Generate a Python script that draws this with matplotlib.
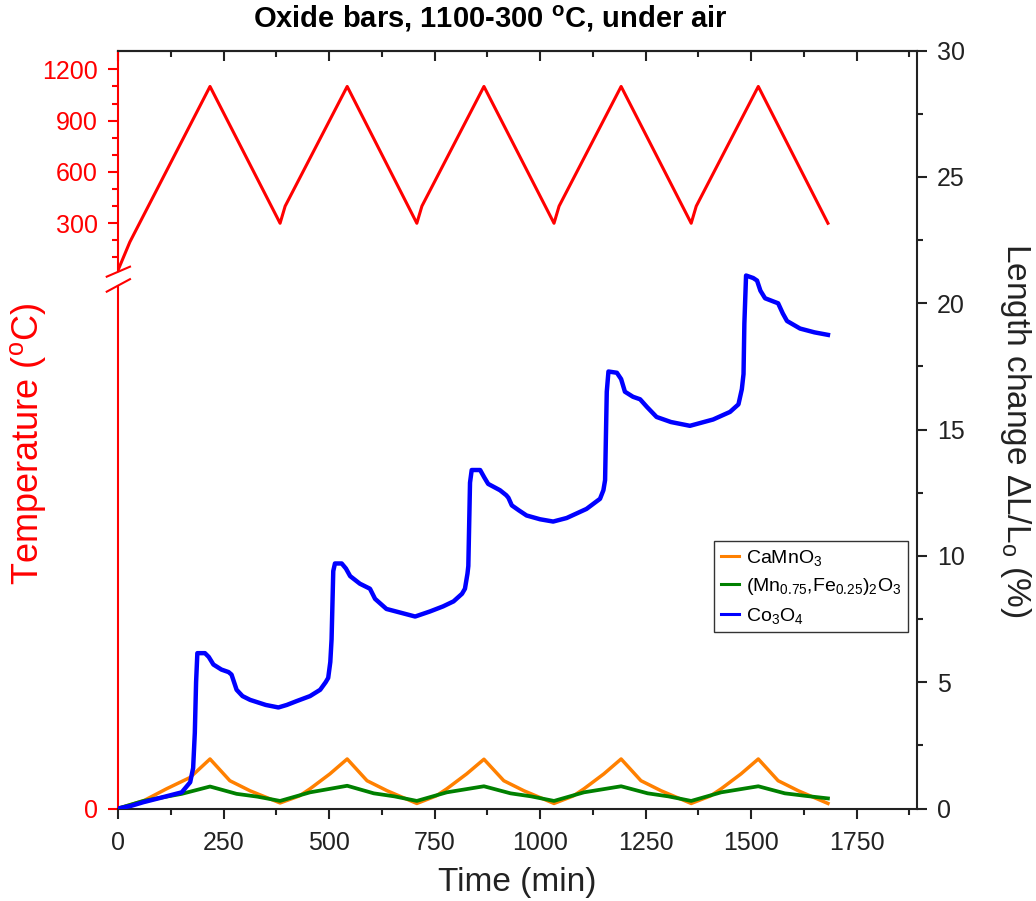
import numpy as np
import matplotlib
matplotlib.use('Agg')
import matplotlib.pyplot as plt

plt.rcParams['font.family'] = ['Liberation Sans', 'DejaVu Sans']
plt.rcParams['mathtext.fontset'] = 'custom'
plt.rcParams['mathtext.rm'] = 'Liberation Sans'
plt.rcParams['mathtext.it'] = 'Liberation Sans:italic'
plt.rcParams['mathtext.bf'] = 'Liberation Sans:bold'

# temperature program (deg C) vs time (min)
temp_t = [0, 28, 218, 384, 396, 543, 708, 720, 867, 1033, 1045, 1192, 1358, 1370, 1517, 1682]
temp_c = [25, 190, 1100, 300, 400, 1100, 300, 400, 1100, 300, 400, 1100, 300, 400, 1100, 300]

# CaMnO3 length change (%)
camn_t = [0, 30, 60, 115, 171, 218, 265, 313, 384, 430, 455, 502, 543, 590, 638, 708,
          754, 779, 826, 867, 914, 962, 1033, 1079, 1104, 1151, 1192, 1239, 1287, 1358,
          1404, 1429, 1476, 1517, 1564, 1612, 1682]
camn_l = [0, 0.15, 0.3, 0.78, 1.23, 1.96, 1.1, 0.7, 0.22, 0.5, 0.78, 1.37, 1.96, 1.1, 0.7, 0.2,
          0.5, 0.78, 1.37, 1.95, 1.1, 0.7, 0.2, 0.5, 0.78, 1.37, 1.96, 1.1, 0.7, 0.2,
          0.5, 0.78, 1.37, 1.96, 1.1, 0.7, 0.2]

# (Mn0.75,Fe0.25)2O3 length change (%)
mnfe_t = [0, 60, 151, 218, 281, 330, 384, 455, 543, 606, 655, 708, 779, 867, 930, 979, 1033,
          1104, 1192, 1255, 1304, 1358, 1429, 1517, 1580, 1629, 1682]
mnfe_l = [0, 0.3, 0.58, 0.87, 0.58, 0.47, 0.3, 0.64, 0.9, 0.6, 0.48, 0.3, 0.64, 0.88, 0.6, 0.48, 0.3,
          0.64, 0.88, 0.6, 0.48, 0.3, 0.64, 0.88, 0.6, 0.5, 0.4]

# Co3O4 length change (%)
co_t = [0, 30, 60, 100, 151, 171, 178, 182, 185, 188, 206, 215, 226, 245, 262, 269, 275, 281,
        295, 313, 350, 380, 400, 423, 455, 479, 492, 498, 503, 506, 510, 514, 530, 540, 550,
        573, 597, 603, 609, 636, 670, 704, 739, 770, 795, 815, 822, 828, 830, 834, 838, 858,
        868, 877, 905, 920, 925, 933, 950, 968, 1000, 1031, 1063, 1110, 1142, 1150, 1154, 1158,
        1162, 1182, 1192, 1201, 1220, 1237, 1253, 1276, 1310, 1355, 1410, 1450, 1470, 1478,
        1482, 1484, 1488, 1505, 1514, 1522, 1533, 1564, 1575, 1585, 1616, 1650, 1682]
co_l = [0, 0.1, 0.25, 0.42, 0.64, 1.04, 1.6, 3.0, 5.0, 6.15, 6.15, 6.0, 5.7, 5.5, 5.4, 5.3, 5.0, 4.7,
        4.45, 4.3, 4.1, 4.0, 4.1, 4.25, 4.45, 4.7, 5.0, 5.17, 5.8, 6.7, 9.4, 9.7, 9.7, 9.5, 9.2,
        8.9, 8.7, 8.5, 8.3, 7.9, 7.75, 7.6, 7.8, 8.0, 8.2, 8.5, 8.7, 9.3, 9.6, 12.9, 13.4, 13.4,
        13.1, 12.85, 12.6, 12.4, 12.3, 12.0, 11.8, 11.6, 11.45, 11.36, 11.5, 11.86, 12.26, 12.6, 13.0, 16.5,
        17.3, 17.25, 17.0, 16.5, 16.3, 16.2, 15.9, 15.5, 15.3, 15.15, 15.4, 15.7, 16.0, 16.6,
        17.2, 19.2, 21.1, 21.0, 20.9, 20.5, 20.2, 20.0, 19.6, 19.3, 19.0, 18.85, 18.75]

red = '#FF0000'
W, H = 1036, 901
fig = plt.figure(figsize=(W / 100, H / 100), dpi=100)
ax_t = fig.add_axes([118 / W, 1 - 808.5 / H, 799 / W, 757.8 / H])
ax_l = ax_t.twinx()

# temperature axis: only 300-1200 shown above the break, bottom labelled 0
t_bot, t_top = -3122, 1309
ax_t.plot(temp_t, temp_c, color=red, lw=2.2)
ax_t.set_ylim(t_bot, t_top)
ax_t.set_xlim(0, 1893)
ax_t.set_yticks([t_bot, 300, 600, 900, 1200])
ax_t.set_yticklabels(['0', '300', '600', '900', '1200'])
ax_t.set_yticks([100, 200, 400, 500, 700, 800, 1000, 1100], minor=True)
ax_t.set_xticks(np.arange(0, 1751, 250))
ax_t.set_xticks(np.arange(125, 1876, 250), minor=True)
ax_t.tick_params(axis='y', which='both', colors=red, direction='out', width=1.5, labelsize=18, pad=7.5)
ax_t.tick_params(axis='y', which='major', length=7)
ax_t.tick_params(axis='y', which='minor', length=4)
ax_t.tick_params(axis='x', which='both', direction='out', width=1.5, labelsize=18, colors='#222222', pad=9)
ax_t.tick_params(axis='x', which='major', length=7)
ax_t.tick_params(axis='x', which='minor', length=4)
ax_t.spines['left'].set_visible(False)
ax_t.spines['right'].set_visible(False)
for s in ['top', 'bottom']:
    ax_t.spines[s].set_linewidth(1.5)
    ax_t.spines[s].set_color('#222222')

# broken left spine
kw = dict(transform=ax_t.transAxes, color=red, lw=1.5, clip_on=False)
ax_t.plot([0, 0], [0, 0.690], **kw)
ax_t.plot([0, 0], [0.7096, 1], **kw)
ax_t.plot([-0.0141, 0.0150], [0.7018, 0.7150], **kw)
ax_t.plot([-0.0141, 0.0150], [0.6820, 0.6985], **kw)

# top ticks pointing inward
top = ax_t.secondary_xaxis('top')
top.set_xticks(np.arange(0, 1751, 250))
top.set_xticks(np.arange(125, 1876, 250), minor=True)
top.tick_params(which='both', direction='in', width=1.5, labeltop=False, colors='#222222')
top.tick_params(which='major', length=7)
top.tick_params(which='minor', length=4)
top.spines['top'].set_linewidth(1.5)
top.spines['top'].set_color('#222222')

# length change axis
ax_l.plot(camn_t, camn_l, color='#FF8000', lw=2.5, label='CaMnO$_3$')
ax_l.plot(mnfe_t, mnfe_l, color='#008000', lw=2.7, label='(Mn$_{0.75}$,Fe$_{0.25}$)$_2$O$_3$')
ax_l.plot(co_t, co_l, color='#0000FF', lw=3.2, label='Co$_3$O$_4$')
ax_l.set_ylim(0, 30)
ax_l.set_yticks(np.arange(0, 31, 5))
ax_l.set_yticks(np.arange(2.5, 30, 5), minor=True)
ax_l.tick_params(axis='y', which='both', direction='out', width=1.5, labelsize=18, colors='#222222', pad=7.5)
ax_l.tick_params(axis='y', which='major', length=7)
ax_l.tick_params(axis='y', which='minor', length=4)
ax_l.spines['left'].set_visible(False)
ax_l.spines['top'].set_visible(False)
ax_l.spines['bottom'].set_visible(False)
ax_l.spines['right'].set_linewidth(1.5)
ax_l.spines['right'].set_color('#222222')

leg = ax_l.legend(loc='upper right', bbox_to_anchor=(0.989, 0.353), fontsize=14,
                  frameon=True, fancybox=False, framealpha=1, edgecolor='#333333',
                  borderpad=0.35, handlelength=0.95, handletextpad=0.35, labelspacing=0.43,
                  borderaxespad=0)
leg.get_frame().set_linewidth(1.0)
for ln in leg.get_lines():
    ln.set_linewidth(2.2)

ax_t.set_xlabel('Time (min)', fontsize=24, labelpad=9, color='#222222')
fig.text(28 / W, 1 - 444 / H, 'Temperature ($^{\\mathrm{o}}$C)', color=red, fontsize=26,
         rotation=90, ha='center', va='center')
fig.text(1015 / W, 1 - 430 / H, 'Length change $\\Delta$L/L$_{\\mathrm{o}}$ (%)', color='#222222',
         fontsize=24, rotation=270, ha='center', va='center')
fig.text(490 / W, 1 - 19 / H, 'Oxide bars, 1100-300 $^{\\mathbf{o}}$C, under air', fontsize=21,
         fontweight='bold', ha='center', va='center')

fig.savefig('out.png', dpi=100)
